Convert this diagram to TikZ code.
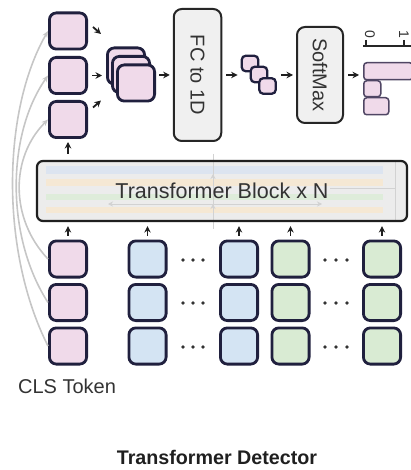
\documentclass[tikz,border=0pt]{standalone}
\usepackage{fontspec}
\setmainfont{Liberation Sans}
\usepackage{graphicx}
\usetikzlibrary{arrows.meta,calc,backgrounds}
\definecolor{navy}{RGB}{32,32,62}
\definecolor{tpink}{RGB}{240,218,234}
\definecolor{tblue}{RGB}{212,228,243}
\definecolor{tgreen}{RGB}{217,235,211}
\definecolor{boxgray}{RGB}{240,240,240}
\definecolor{blockgray}{RGB}{236,236,236}
\definecolor{curvegray}{RGB}{198,198,198}
\definecolor{bandblue}{RGB}{220,228,240}
\definecolor{bandorange}{RGB}{245,232,212}
\definecolor{bandgreen}{RGB}{222,236,218}
\definecolor{ghost}{RGB}{210,210,210}
\definecolor{barline}{RGB}{80,70,100}
\begin{document}
\begin{tikzpicture}[x=1pt,y=-1pt,
  tok/.style={draw=navy, line width=2.8pt, rounded corners=7pt, minimum width=37.2pt, minimum height=36.2pt, inner sep=0pt},
  cube/.style={draw=navy, fill=tpink, line width=2.3pt, rounded corners=4pt, minimum width=16.5pt, minimum height=15.5pt, inner sep=0pt},
  bigbox/.style={draw=black!85, fill=boxgray, line width=2pt, rounded corners=8pt, inner sep=0pt, font=\fontsize{20}{24}\selectfont, text=black!80},
  bar/.style={draw=barline, fill=tpink, line width=1.5pt, rounded corners=3pt, inner sep=0pt, anchor=north west},
  arr/.style={-{Stealth[length=6.5pt,width=6.5pt]}, line width=1.8pt, draw=black!88},
  curvearr/.style={-{Stealth[length=6.5pt,width=5.5pt]}, draw=curvegray, line width=1.6pt},
  lab/.style={font=\fontsize{20}{24}\selectfont, text=black!80, inner sep=0pt}
]
\useasboundingbox (0,0) rectangle (410,470);

% top CLS outputs
\node[tok, fill=tpink] (t1) at (68,31) {};
\node[tok, fill=tpink] (t2) at (68,75.5) {};
\node[tok, fill=tpink] (t3) at (68,119.5) {};

% stack
\node[tok, fill=tpink] (s1) at (126,66) {};
\node[tok, fill=tpink] (s2) at (131,74.5) {};
\node[tok, fill=tpink] (s3) at (136,83) {};

% FC box
\node[bigbox, minimum width=47.5pt, minimum height=132pt] (fc) at (197.5,75) {\rotatebox{-90}{FC to 1D}};

% small cubes
\node[cube] (c1) at (250,63.5) {};
\node[cube] (c2) at (259,74.5) {};
\node[cube] (c3) at (267.5,86) {};

% softmax
\node[bigbox, minimum width=46pt, minimum height=96pt] (sm) at (320,75) {\rotatebox{-90}{SoftMax}};

% bars
\node[bar, minimum width=49pt, minimum height=17pt] (b1) at (363,62) {};
\node[bar, minimum width=17pt, minimum height=16pt] (b2) at (363,80) {};
\node[bar, minimum width=25pt, minimum height=17pt] (b3) at (363,97) {};

% axis
\draw[line width=1.3pt, draw=black!85] (b1.north west |- 0,46) -- (412,46);
\draw[line width=1.3pt, draw=black!85] (366,40) -- (366,46);
\draw[line width=1.3pt, draw=black!85] (404,40) -- (404,46);
\node[inner sep=0pt, font=\fontsize{14}{16}\selectfont, text=black!80, rotate=-90] (z0) at (370,34) {0};
\node[inner sep=0pt, font=\fontsize{14}{16}\selectfont, text=black!80, rotate=-90] (z1) at (404,34) {1};

% transformer block
\node[draw=black!88, line width=2.2pt, rounded corners=6pt, minimum width=370pt, minimum height=60pt, inner sep=0pt] (tb) at (222,191) {};
\begin{scope}[on background layer]
  \fill[blockgray, rounded corners=6pt] (tb.south west) rectangle (tb.north east);
  \fill[bandblue] (46,166) rectangle (383,174);
  \fill[bandorange] (46,179) rectangle (383,186);
  \fill[bandgreen] (46,194) rectangle (383,200);
  \fill[bandorange] (46,207) rectangle (383,213);
  \draw[ghost, line width=0.9pt] (213,154) -- (213,229);
  \draw[ghost, line width=0.9pt, -{Stealth[length=5pt,width=5pt]}] (213,190) -- (213,174);
  \draw[ghost, line width=0.9pt, -{Stealth[length=5pt,width=5pt]}] (213,214) -- (213,204);
  \draw[ghost, line width=0.9pt, {Stealth[length=5pt,width=5pt]}-{Stealth[length=5pt,width=5pt]}] (108,204) -- (322,204);
  \draw[ghost, line width=0.9pt] (395,162) -- (395,220);
  \draw[ghost, line width=0.9pt] (330,188) -- (395,188);
\end{scope}
\node[lab, font=\fontsize{21.5}{25}\selectfont] (tbtext) at (222,191) {Transformer Block x N};

% bottom tokens
\foreach \c/\x/\col in {1/68/tpink,2/147.5/tblue,3/239/tblue,4/290.5/tgreen,5/382/tgreen}{
  \node[tok, fill=\col] (b\c1) at (\x,259) {};
  \node[tok, fill=\col] (b\c2) at (\x,302.5) {};
  \node[tok, fill=\col] (b\c3) at (\x,346) {};
  \draw[arr, shorten <=4pt, shorten >=4pt] (b\c1.north) -- (b\c1.north |- tb.south);
}

% dots
\foreach \x in {183,193,203,325,336,347}
  \foreach \y in {260,303,347}
    \fill[black!80] (\x,\y) circle (1.9pt);

% arrows top
\draw[arr, shorten <=6pt, shorten >=3pt] (tb.north -| t3.south) -- (t3.south);
\draw[arr] ($(t1.east)+(5,-4)$) -- ($(t1.east)+(13,3)$);
\draw[arr, shorten <=4pt, shorten >=4pt] (t2.east) -- (t2.east -| s1.west);
\draw[arr] ($(t3.east)+(5,-12)$) -- ($(t3.east)+(13,-19)$);
\draw[arr, shorten <=3pt, shorten >=3pt] (fc.west -| s3.east) -- (fc.west);
\draw[arr, shorten <=4pt, shorten >=3pt] (fc.east) -- (fc.east -| c1.west);
\draw[arr, shorten <=4pt, shorten >=3pt] (sm.west -| c3.east) -- (sm.west);
\draw[arr, shorten <=4pt, shorten >=4pt] (sm.east) -- (sm.east -| b1.west);

% CLS skip curves
\draw[curvearr] (b13.west) .. controls +(-48,-95) and +(-46,80) .. (t1.west);
\draw[curvearr] (b12.west) .. controls +(-42,-65) and +(-42,60) .. (t2.west);
\draw[curvearr] (b11.west) .. controls +(-38,-40) and +(-38,38) .. (t3.west);

% labels
\node[lab] (cls) at (67,386) {CLS Token};
\node[lab, font=\bfseries\fontsize{19.7}{24}\selectfont, text=black!88] (title) at (217,457) {Transformer Detector};
\end{tikzpicture}
\end{document}
